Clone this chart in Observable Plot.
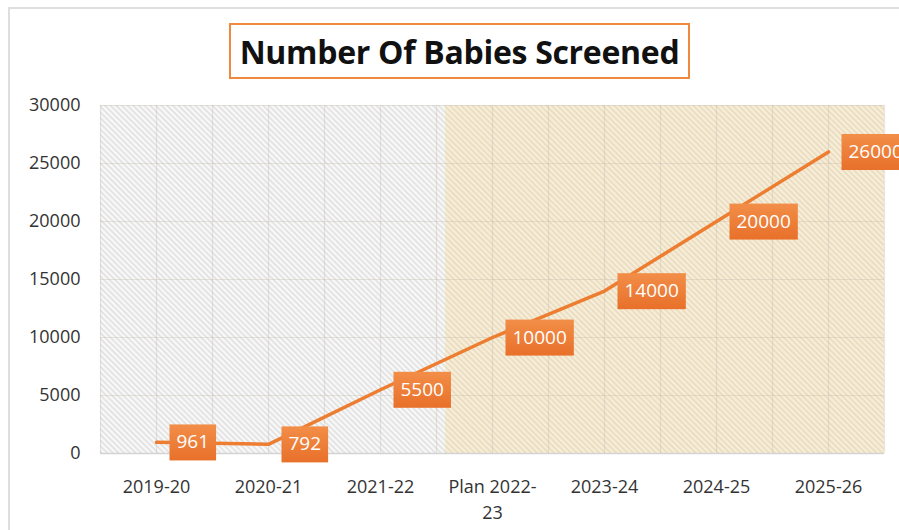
<!DOCTYPE html>
<html><head><meta charset="utf-8">
<script src="https://cdn.jsdelivr.net/npm/d3@7"></script>
<script src="https://cdn.jsdelivr.net/npm/@observablehq/plot@0.6"></script>
<style>
body{margin:0;background:#fff;width:899px;height:530px;overflow:hidden;position:relative;font-family:"Open Sans",sans-serif}
#frame{position:absolute;left:8px;top:7px;width:1000px;height:1000px;border:2px solid #dedede;}
#title{position:absolute;left:229px;top:23px;width:457px;height:52px;border:2px solid #F0883E;display:flex;align-items:center;justify-content:center;font-weight:700;font-size:32px;color:#111;background:#fff;letter-spacing:-0.3px}
#chart{position:absolute;left:0;top:90px}
</style></head><body>
<div id="frame"></div>
<div id="title">Number Of Babies Screened</div>
<div id="chart"></div>
<svg width="0" height="0" style="position:absolute"><defs>
  <pattern id="hatchGray" patternUnits="userSpaceOnUse" width="4" height="4" patternTransform="rotate(45)">
    <rect width="4" height="4" fill="#f8f8f8"/>
    <rect width="4" height="1.5" fill="#dedede"/>
  </pattern>
  <pattern id="hatchBeige" patternUnits="userSpaceOnUse" width="4" height="4" patternTransform="rotate(45)">
    <rect width="4" height="4" fill="#f6eedb"/>
    <rect width="4" height="1.5" fill="#e8d9b8"/>
  </pattern>
  <linearGradient id="lblFill" x1="0" y1="0" x2="0" y2="1">
    <stop offset="0" stop-color="#F28E48"/>
    <stop offset="1" stop-color="#E8702A"/>
  </linearGradient>
</defs></svg>
<script>
const categories = ["2019-20","2020-21","2021-22","Plan 2022-\n23","2023-24","2024-25","2025-26"];
const babiesScreened = [961, 792, 5500, 10000, 14000, 20000, 26000];
const yTicks = [0, 5000, 10000, 15000, 20000, 25000, 30000];
const actualPeriod = {start: -0.5, end: 2.58};
const planPeriod = {start: 2.58, end: 6.5};

const data = categories.map((c, i) => ({i, cat: c, v: babiesScreened[i]}));
const yMin = yTicks[0], yMax = yTicks[yTicks.length - 1];
const gridX = d3.range(-0.5, categories.length, 0.5);

const chart = Plot.plot({
  width: 899,
  height: 440,
  marginLeft: 100,
  marginRight: 15,
  marginTop: 15,
  marginBottom: 77,
  style: {fontFamily: "Open Sans", fontSize: "18px", color: "#333", background: "transparent"},
  x: {domain: [-0.5, categories.length - 0.5], label: null},
  y: {domain: [yMin, yMax], label: null},
  marks: [
    Plot.rect([actualPeriod], {x1: "start", x2: "end", y1: () => yMin, y2: () => yMax, fill: "url(#hatchGray)"}),
    Plot.rect([planPeriod], {x1: "start", x2: "end", y1: () => yMin, y2: () => yMax, fill: "url(#hatchBeige)"}),
    Plot.ruleX(gridX, {stroke: "#c9bfae", strokeOpacity: 0.4, strokeWidth: 1.2}),
    Plot.ruleY(yTicks, {stroke: "#c9bfae", strokeOpacity: 0.4, strokeWidth: 1.2}),
    Plot.ruleY([yMin], {stroke: "#d4d4d4", strokeWidth: 1.5}),
    Plot.axisY({ticks: yTicks, tickSize: 0, tickPadding: 20, tickFormat: d => String(d), label: null}),
    Plot.axisX({ticks: d3.range(categories.length), tickSize: 0, tickPadding: 22, tickFormat: i => categories[i], lineHeight: 1.4, label: null}),
    Plot.line(data, {x: "i", y: "v", stroke: "#ED7D31", strokeWidth: 3.5}),
    Plot.text(data, {x: "i", y: "v", text: d => String(d.v), textAnchor: "start", dx: 20, fill: "white", fontSize: 19, ariaLabel: () => "value-label"})
  ]
});
document.getElementById("chart").append(chart);

// Add a box behind each value label, sized from the rendered text
chart.querySelectorAll('text[aria-label="value-label"]').forEach(t => {
  const b = t.getBBox();
  const padX = 7, h = 36;
  const r = document.createElementNS("http://www.w3.org/2000/svg", "rect");
  r.setAttribute("x", b.x - padX);
  r.setAttribute("y", b.y + b.height / 2 - h / 2 + 1);
  r.setAttribute("width", b.width + 2 * padX);
  r.setAttribute("height", h);
  r.setAttribute("fill", "url(#lblFill)");
  if (t.getAttribute("transform")) r.setAttribute("transform", t.getAttribute("transform"));
  t.parentNode.insertBefore(r, t);
});
</script>
</body></html>
